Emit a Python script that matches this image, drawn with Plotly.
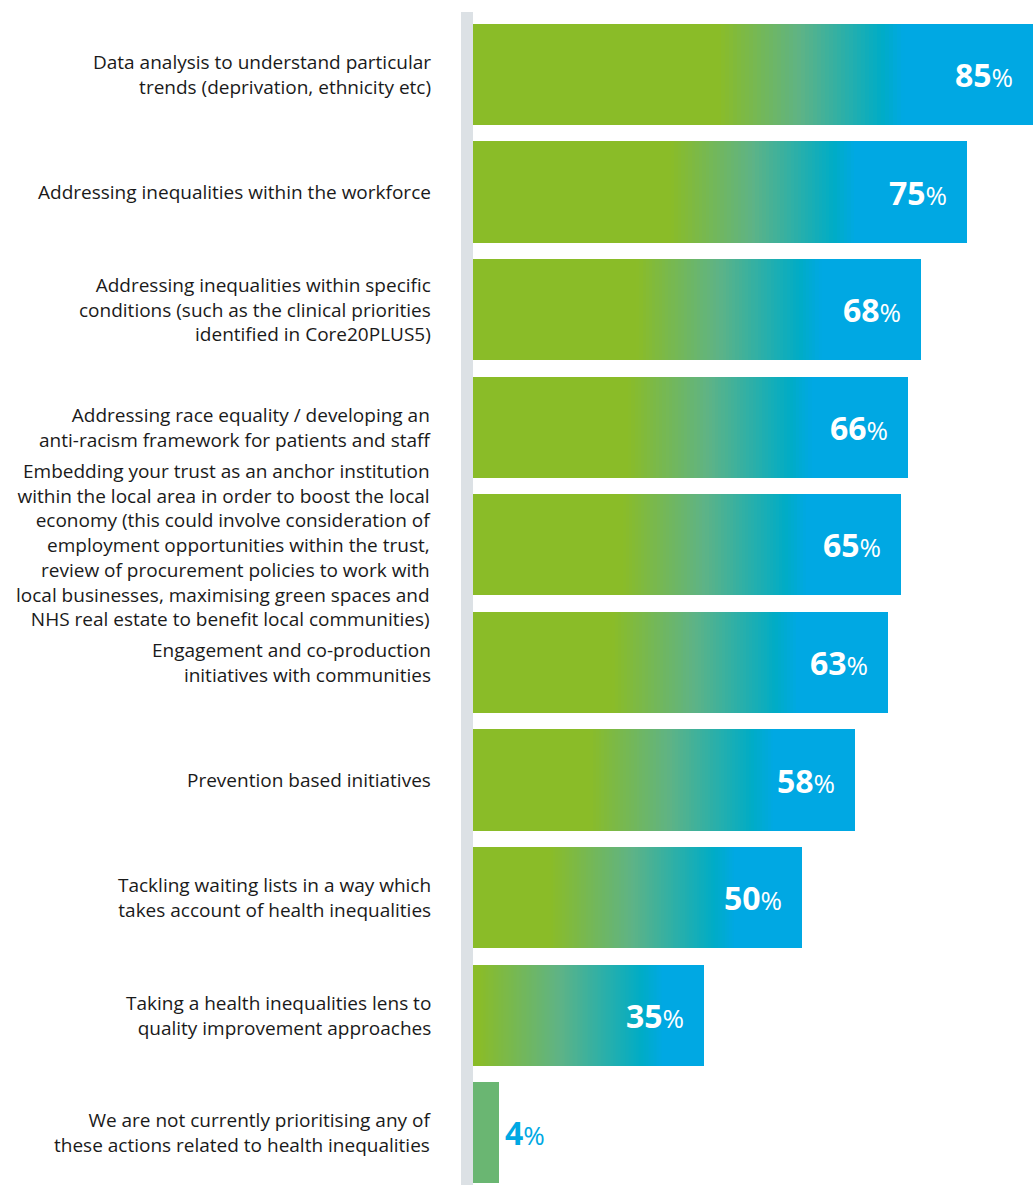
import plotly.graph_objects as go

# Survey responses: share of trusts prioritising each action (%)
categories = [
    "Data analysis to understand particular<br>trends (deprivation, ethnicity etc)",
    "Addressing inequalities within the workforce",
    "Addressing inequalities within specific<br>conditions (such as the clinical priorities<br>identified in Core20PLUS5)",
    "Addressing race equality / developing an<br>anti-racism framework for patients and staff",
    "Embedding your trust as an anchor institution<br>within the local area in order to boost the local<br>economy (this could involve consideration of<br>employment opportunities within the trust,<br>review of procurement policies to work with<br>local businesses, maximising green spaces and<br>NHS real estate to benefit local communities)",
    "Engagement and co-production<br>initiatives with communities",
    "Prevention based initiatives",
    "Tackling waiting lists in a way which<br>takes account of health inequalities",
    "Taking a health inequalities lens to<br>quality improvement approaches",
    "We are not currently prioritising any of<br>these actions related to health inequalities",
]
values = [85, 75, 68, 66, 65, 63, 58, 50, 35, 4]

GREEN = (138, 188, 40)
MID = (94, 179, 134)
TEAL = (0, 172, 198)
BLUE = (0, 168, 227)
FLAT = (106, 182, 114)
FONT = "Open Sans"
LABEL_SIZE = 19
N_STEPS = 140


def mix(a, b, t):
    t = max(0.0, min(1.0, t))
    return tuple(round(a[i] + (b[i] - a[i]) * t) for i in range(3))


def grad_color(p, v):
    """Colour of a bar of value v at position p along its length."""
    if v < 10:
        c = FLAT
    else:
        teal = 0.73 * v
        green_end = teal - 24.7
        blue = teal + 3.3
        if p <= green_end:
            c = GREEN
        elif p <= teal:
            t = (p - green_end) / (teal - green_end)
            c = mix(GREEN, MID, t * 2) if t < 0.5 else mix(MID, TEAL, t * 2 - 1)
        else:
            c = mix(TEAL, BLUE, (p - teal) / (blue - teal))
    return "rgb(%d,%d,%d)" % c


ypos = list(range(len(values)))
fig = go.Figure()

# Gradient bars: overlaid bars from longest to shortest, each layer one colour step
for k in range(N_STEPS, 0, -1):
    fig.add_trace(go.Bar(
        x=[v * k / N_STEPS for v in values],
        y=ypos,
        orientation="h",
        width=0.86,
        marker=dict(
            color=[grad_color(v * (k - 0.5) / N_STEPS, v) for v in values],
            line=dict(width=0),
        ),
        hoverinfo="skip",
        showlegend=False,
    ))

annotations = []
for i, (cat, v) in enumerate(zip(categories, values)):
    annotations.append(dict(
        x=0, xref="paper", y=i, yref="y",
        text=cat, showarrow=False,
        xanchor="right", yanchor="middle", align="right",
        xshift=-40,
        font=dict(family=FONT, size=LABEL_SIZE, color="#1a1a1a"),
    ))
    label = "<b>%d</b><span style='font-size:26px'>%%</span>" % v
    if v >= 10:
        annotations.append(dict(
            x=v, y=i, text=label, showarrow=False,
            xanchor="right", yanchor="middle", xshift=-18,
            font=dict(family=FONT, size=32, color="white"),
        ))
    else:
        annotations.append(dict(
            x=v, y=i, text=label, showarrow=False,
            xanchor="left", yanchor="middle", xshift=4,
            font=dict(family=FONT, size=32, color="rgb(0,168,227)"),
        ))

fig.update_layout(
    width=1033, height=1185,
    margin=dict(l=473, r=0, t=12, b=0),
    paper_bgcolor="white", plot_bgcolor="white",
    barmode="overlay",
    bargap=0,
    xaxis=dict(range=[0, 85], visible=False, fixedrange=True),
    yaxis=dict(range=[9.444, -0.531], visible=False, fixedrange=True),
    annotations=annotations,
    shapes=[dict(
        type="rect", xref="paper", yref="paper",
        x0=-12 / 560, x1=0, y0=0, y1=1,
        fillcolor="#dce1e5", line=dict(width=0), layer="below",
    )],
)

fig.write_html("out.html")
